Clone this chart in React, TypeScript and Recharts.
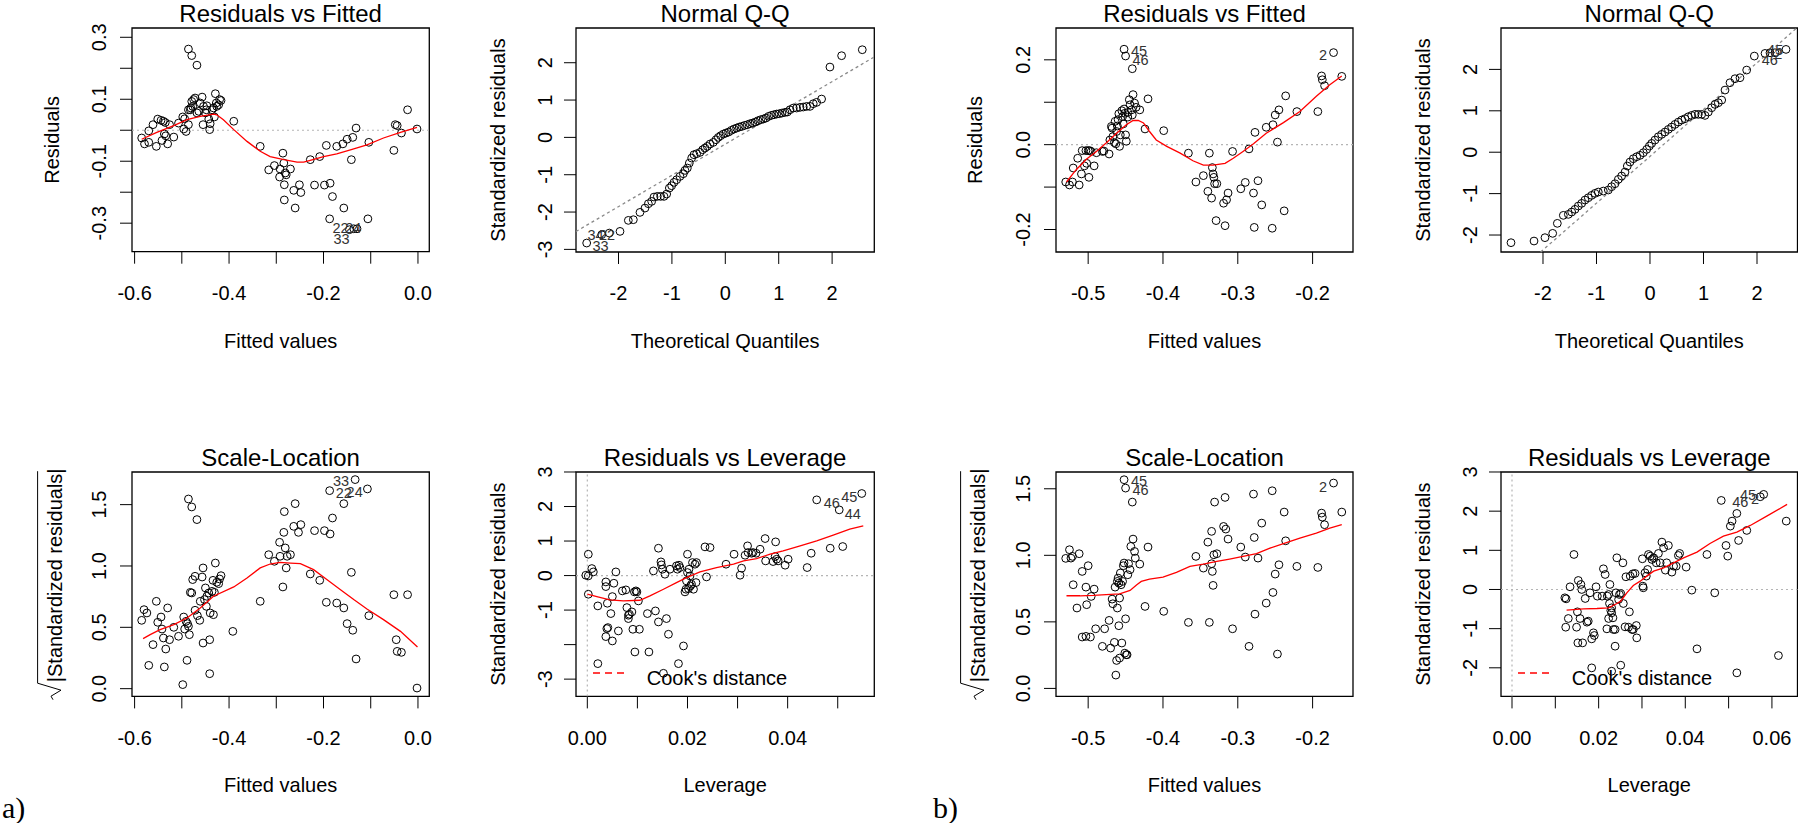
import React from "react";
import { ScatterChart, Scatter, XAxis, YAxis, ReferenceLine, ReferenceArea, Legend } from "recharts";

type XY = [number, number];
type Tag = [number, number, string];
type TickLab = [number, string | null];

const FONT = '"Liberation Sans", Arial, Helvetica, sans-serif';

// ---------- a) Residuals vs Fitted ----------
const rvfA: XY[] = [
  [-0.585, -0.025], [-0.579, -0.044], [-0.570, -0.039], [-0.570, -0.002], [-0.561, 0.018], [-0.554, -0.052],
  [-0.551, 0.036], [-0.544, 0.032], [-0.542, -0.033], [-0.539, 0.029], [-0.537, -0.012], [-0.535, 0.025],
  [-0.534, -0.018], [-0.530, -0.044], [-0.526, 0.018], [-0.517, -0.022], [-0.507, 0.023], [-0.498, 0.043],
  [-0.496, 0.004], [-0.494, 0.037], [-0.491, -0.004], [-0.486, 0.018], [-0.486, 0.066], [-0.482, 0.066],
  [-0.481, 0.072], [-0.479, 0.093], [-0.477, 0.077], [-0.475, 0.099], [-0.472, 0.104], [-0.468, 0.056],
  [-0.464, 0.061], [-0.461, 0.088], [-0.457, 0.107], [-0.455, 0.018], [-0.454, 0.077], [-0.450, 0.056],
  [-0.448, 0.066], [-0.447, 0.079], [-0.443, 0.036], [-0.441, 0.002], [-0.440, 0.021], [-0.436, 0.066],
  [-0.433, 0.072], [-0.431, 0.043], [-0.429, 0.118], [-0.427, 0.088], [-0.426, 0.077], [-0.422, 0.082],
  [-0.420, 0.099], [-0.417, 0.096], [-0.486, 0.262], [-0.479, 0.241], [-0.468, 0.210], [-0.390, 0.029],
  [-0.334, -0.052], [-0.316, -0.128], [-0.304, -0.114], [-0.293, -0.151], [-0.292, -0.125], [-0.286, -0.074],
  [-0.284, -0.106], [-0.283, -0.176], [-0.283, -0.225], [-0.281, -0.138], [-0.279, -0.144], [-0.270, -0.125],
  [-0.263, -0.194], [-0.260, -0.251], [-0.251, -0.176], [-0.248, -0.201], [-0.228, -0.095], [-0.219, -0.177],
  [-0.208, -0.085], [-0.198, -0.177], [-0.194, -0.049], [-0.186, -0.171], [-0.187, -0.286], [-0.181, -0.214],
  [-0.172, -0.052], [-0.159, -0.044], [-0.157, -0.251], [-0.150, -0.029], [-0.141, -0.095], [-0.138, -0.023],
  [-0.131, 0.007], [-0.136, -0.318], [-0.129, -0.318], [-0.145, -0.321], [-0.104, -0.039], [-0.106, -0.286],
  [-0.051, -0.065], [-0.048, 0.018], [-0.044, 0.015], [-0.035, -0.009], [-0.022, 0.066], [-0.002, 0.004],
];
const rvfASmooth: XY[] = [
  [-0.585, -0.029], [-0.553, -0.007], [-0.517, 0.015], [-0.489, 0.034], [-0.461, 0.045], [-0.433, 0.052],
  [-0.426, 0.050], [-0.412, 0.034], [-0.390, 0.002], [-0.362, -0.036], [-0.334, -0.068], [-0.313, -0.085],
  [-0.284, -0.095], [-0.256, -0.103], [-0.242, -0.103], [-0.228, -0.097], [-0.200, -0.085], [-0.172, -0.076],
  [-0.143, -0.063], [-0.108, -0.047], [-0.073, -0.025], [-0.037, -0.007], [-0.002, 0.009],
];
const rvfATags: Tag[] = [[-0.164, -0.317, "22"], [-0.137, -0.317, "24"], [-0.162, -0.350, "33"]];

// ---------- a) Normal Q-Q ----------
const qqA: XY[] = [
  [-2.596, -2.830], [-2.315, -2.607], [-2.172, -2.563], [-1.972, -2.518], [-1.816, -2.223], [-1.722, -2.205],
  [-1.598, -2.009], [-1.504, -1.893], [-1.441, -1.777], [-1.379, -1.714], [-1.335, -1.598], [-1.273, -1.580],
  [-1.211, -1.580], [-1.148, -1.580], [-1.098, -1.518], [-1.048, -1.357], [-1.005, -1.295], [-0.961, -1.205],
  [-0.911, -1.134], [-0.849, -1.045], [-0.786, -0.973], [-0.755, -0.884], [-0.711, -0.821], [-0.674, -0.688],
  [-0.630, -0.554], [-0.587, -0.464], [-0.537, -0.438], [-0.474, -0.402], [-0.424, -0.330], [-0.381, -0.286],
  [-0.337, -0.241], [-0.287, -0.179], [-0.225, -0.134], [-0.175, -0.063], [-0.131, 0.000], [-0.087, 0.045],
  [-0.037, 0.089], [0.012, 0.116], [0.062, 0.143], [0.112, 0.188], [0.162, 0.223], [0.212, 0.250],
  [0.262, 0.277], [0.312, 0.295], [0.362, 0.321], [0.412, 0.339], [0.462, 0.366], [0.512, 0.384],
  [0.562, 0.411], [0.612, 0.446], [0.661, 0.473], [0.711, 0.491], [0.761, 0.518], [0.811, 0.563],
  [0.861, 0.589], [0.911, 0.607], [0.961, 0.625], [1.011, 0.634], [1.061, 0.652], [1.117, 0.670],
  [1.161, 0.679], [1.211, 0.741], [1.273, 0.786], [1.335, 0.786], [1.398, 0.804], [1.460, 0.813],
  [1.523, 0.830], [1.585, 0.830], [1.647, 0.902], [1.710, 0.938], [1.803, 1.027], [1.959, 1.884],
  [2.178, 2.188], [2.565, 2.348],
];
const qqALine: [XY, XY] = [[-2.796, -2.52], [2.79, 2.155]];
const qqATags: Tag[] = [[-2.43, -2.61, "34"], [-2.215, -2.61, "22"], [-2.337, -2.92, "33"]];

// ---------- b) Residuals vs Fitted ----------
const rvfB: XY[] = [
  [-0.530, -0.088], [-0.525, -0.095], [-0.521, -0.088], [-0.520, -0.055], [-0.514, -0.032], [-0.512, -0.095],
  [-0.509, -0.069], [-0.508, -0.014], [-0.505, -0.050], [-0.503, -0.014], [-0.502, -0.044], [-0.500, -0.014],
  [-0.499, -0.077], [-0.498, -0.014], [-0.496, -0.016], [-0.492, -0.050], [-0.489, -0.019], [-0.481, -0.016],
  [-0.479, -0.015], [-0.472, -0.022], [-0.471, 0.011], [-0.469, 0.043], [-0.468, 0.039], [-0.467, 0.019],
  [-0.465, 0.005], [-0.464, 0.055], [-0.463, 0.002], [-0.462, 0.031], [-0.461, 0.044], [-0.460, 0.059],
  [-0.459, 0.073], [-0.458, -0.004], [-0.457, 0.023], [-0.455, 0.080], [-0.454, 0.066], [-0.453, 0.049],
  [-0.452, 0.084], [-0.451, 0.074], [-0.450, 0.023], [-0.449, 0.008], [-0.447, 0.065], [-0.447, 0.076],
  [-0.445, 0.106], [-0.444, 0.094], [-0.442, 0.082], [-0.441, 0.070], [-0.440, 0.118], [-0.438, 0.098],
  [-0.436, 0.088], [-0.431, 0.082], [-0.452, 0.225], [-0.450, 0.209], [-0.441, 0.179], [-0.424, 0.037],
  [-0.420, 0.108], [-0.399, 0.033], [-0.366, -0.020], [-0.356, -0.088], [-0.346, -0.073], [-0.340, -0.110],
  [-0.338, -0.020], [-0.335, -0.126], [-0.334, -0.054], [-0.333, -0.069], [-0.332, -0.077], [-0.331, -0.092],
  [-0.329, -0.179], [-0.328, -0.092], [-0.319, -0.138], [-0.317, -0.191], [-0.315, -0.130], [-0.313, -0.114],
  [-0.307, -0.016], [-0.296, -0.104], [-0.290, -0.089], [-0.285, -0.010], [-0.279, -0.114], [-0.278, -0.195],
  [-0.277, 0.029], [-0.273, -0.085], [-0.268, -0.142], [-0.262, 0.041], [-0.253, 0.047], [-0.250, 0.070],
  [-0.247, 0.006], [-0.245, 0.082], [-0.238, -0.156], [-0.236, 0.115], [-0.221, 0.078], [-0.193, 0.078],
  [-0.188, 0.162], [-0.187, 0.153], [-0.184, 0.139], [-0.172, 0.217], [-0.161, 0.161], [-0.254, -0.197],
];
const rvfBSmooth: XY[] = [
  [-0.529, -0.088], [-0.516, -0.059], [-0.502, -0.034], [-0.489, -0.016], [-0.476, 0.004], [-0.462, 0.027],
  [-0.449, 0.047], [-0.440, 0.057], [-0.433, 0.057], [-0.426, 0.051], [-0.418, 0.031], [-0.409, 0.011],
  [-0.395, -0.004], [-0.377, -0.020], [-0.360, -0.038], [-0.346, -0.048], [-0.333, -0.048], [-0.317, -0.044],
  [-0.306, -0.032], [-0.293, -0.016], [-0.279, 0.002], [-0.262, 0.027], [-0.239, 0.052], [-0.217, 0.078],
  [-0.195, 0.114], [-0.177, 0.141], [-0.161, 0.162],
];
const rvfBTags: Tag[] = [[-0.432, 0.220, "45"], [-0.430, 0.200, "46"], [-0.186, 0.212, "2"]];

// ---------- b) Normal Q-Q ----------
const qqB: XY[] = [
  [-2.598, -2.185], [-2.168, -2.145], [-1.963, -2.064], [-1.819, -1.960], [-1.732, -1.718], [-1.620, -1.525],
  [-1.526, -1.501], [-1.464, -1.445], [-1.402, -1.380], [-1.340, -1.300], [-1.277, -1.235], [-1.215, -1.155],
  [-1.153, -1.099], [-1.090, -1.042], [-1.028, -0.994], [-0.966, -0.962], [-0.872, -0.938], [-0.779, -0.913],
  [-0.717, -0.833], [-0.654, -0.761], [-0.592, -0.656], [-0.530, -0.575], [-0.467, -0.479], [-0.424, -0.334],
  [-0.374, -0.237], [-0.312, -0.157], [-0.249, -0.109], [-0.187, -0.076], [-0.125, -0.012], [-0.062, 0.068],
  [-0.012, 0.149], [0.031, 0.213], [0.093, 0.294], [0.156, 0.374], [0.218, 0.431], [0.280, 0.487],
  [0.343, 0.551], [0.405, 0.608], [0.467, 0.672], [0.530, 0.728], [0.592, 0.777], [0.654, 0.809],
  [0.717, 0.857], [0.779, 0.889], [0.841, 0.914], [0.903, 0.914], [0.966, 0.914], [1.028, 0.889],
  [1.090, 0.970], [1.153, 1.074], [1.215, 1.155], [1.277, 1.195], [1.340, 1.260], [1.402, 1.501],
  [1.495, 1.678], [1.589, 1.775], [1.682, 1.799], [1.807, 1.984], [1.950, 2.322], [2.150, 2.386],
  [2.243, 2.402], [2.336, 2.402], [2.542, 2.483],
];
const qqBLine: [XY, XY] = [[-2.044, -2.41], [2.743, 3.0]];
const qqBTags: Tag[] = [[2.34, 2.48, "45"], [2.24, 2.22, "46"], [2.40, 2.36, "2"]];

// ---------- a) Scale-Location ----------
const slA: XY[] = [
  [-0.585, 0.557], [-0.580, 0.644], [-0.574, 0.617], [-0.570, 0.190], [-0.561, 0.359], [-0.554, 0.712],
  [-0.551, 0.541], [-0.544, 0.584], [-0.542, 0.486], [-0.539, 0.413], [-0.537, 0.177], [-0.534, 0.323],
  [-0.530, 0.658], [-0.526, 0.399], [-0.517, 0.500], [-0.507, 0.427], [-0.498, 0.033], [-0.496, 0.584],
  [-0.494, 0.486], [-0.491, 0.549], [-0.489, 0.231], [-0.488, 0.530], [-0.486, 0.508], [-0.486, 1.546],
  [-0.484, 0.440], [-0.482, 0.785], [-0.479, 1.481], [-0.479, 0.780], [-0.477, 0.889], [-0.472, 0.916],
  [-0.472, 0.639], [-0.468, 1.378], [-0.467, 0.595], [-0.462, 0.557], [-0.461, 0.712], [-0.457, 0.910],
  [-0.455, 0.372], [-0.455, 0.984], [-0.452, 0.726], [-0.450, 0.821], [-0.448, 0.671], [-0.447, 0.753],
  [-0.443, 0.780], [-0.441, 0.122], [-0.441, 0.399], [-0.440, 0.617], [-0.436, 0.793], [-0.434, 0.883],
  [-0.433, 0.603], [-0.431, 0.785], [-0.429, 1.024], [-0.426, 0.867], [-0.422, 0.856], [-0.420, 0.894],
  [-0.417, 0.921], [-0.392, 0.467], [-0.334, 0.712], [-0.316, 1.092], [-0.304, 1.038], [-0.293, 1.193],
  [-0.292, 1.079], [-0.286, 0.829], [-0.284, 1.274], [-0.283, 1.443], [-0.281, 1.147], [-0.279, 0.984],
  [-0.277, 1.079], [-0.270, 1.092], [-0.263, 1.323], [-0.260, 1.508], [-0.253, 1.274], [-0.248, 1.337],
  [-0.228, 0.935], [-0.219, 1.288], [-0.208, 0.883], [-0.198, 1.288], [-0.194, 0.704], [-0.186, 1.261],
  [-0.187, 1.614], [-0.181, 1.391], [-0.172, 0.698], [-0.157, 1.508], [-0.157, 0.658], [-0.150, 0.530],
  [-0.141, 0.948], [-0.138, 0.476], [-0.133, 1.704], [-0.131, 0.242], [-0.107, 1.628], [-0.104, 0.595],
  [-0.051, 0.766], [-0.046, 0.399], [-0.044, 0.304], [-0.035, 0.296], [-0.022, 0.766], [-0.002, 0.005],
];
const slASmooth: XY[] = [
  [-0.582, 0.408], [-0.567, 0.440], [-0.546, 0.481], [-0.517, 0.522], [-0.489, 0.576], [-0.461, 0.658],
  [-0.433, 0.753], [-0.390, 0.829], [-0.362, 0.902], [-0.334, 0.984], [-0.313, 1.016], [-0.292, 1.030],
  [-0.270, 1.024], [-0.249, 1.019], [-0.221, 0.970], [-0.193, 0.889], [-0.164, 0.807], [-0.136, 0.726],
  [-0.108, 0.649], [-0.073, 0.563], [-0.037, 0.467], [-0.001, 0.340],
];
const slATags: Tag[] = [[-0.163, 1.690, "33"], [-0.157, 1.595, "22"], [-0.134, 1.603, "24"]];

// ---------- a) Residuals vs Leverage ----------
const rvlA: XY[] = [
  [0.0002, 0.618], [-0.0003, 0.010], [0.0002, -0.010], [0.0002, -0.541], [0.0009, 0.203], [0.0012, 0.106],
  [0.0021, -0.879], [0.0021, -2.551], [0.0037, -0.184], [0.0037, -0.319], [0.0039, -1.536], [0.0040, -0.802],
  [0.0041, -1.507], [0.0037, -1.768], [0.0047, -1.101], [0.0050, -0.609], [0.0050, -1.894], [0.0053, -0.222],
  [0.0057, 0.106], [0.0062, -1.604], [0.0070, -0.444], [0.0077, -0.415], [0.0079, -0.928], [0.0082, -1.150],
  [0.0082, -1.246], [0.0084, -1.121], [0.0089, -1.053], [0.0091, -1.556], [0.0094, -0.473], [0.0095, -2.213],
  [0.0097, -0.444], [0.0099, -0.473], [0.0102, -0.734], [0.0104, -1.556], [0.0120, -1.101], [0.0123, -2.213],
  [0.0132, 0.135], [0.0136, -1.024], [0.0142, 0.792], [0.0142, -1.343], [0.0147, 0.396], [0.0148, 0.309],
  [0.0150, 0.184], [0.0155, 0.039], [0.0158, -1.246], [0.0162, -1.700], [0.0165, 0.184], [0.0182, -2.551],
  [0.0178, 0.280], [0.0180, 0.184], [0.0183, 0.300], [0.0185, 0.232], [0.0192, -2.039], [0.0195, -0.473],
  [0.0197, -0.396], [0.0198, -0.155], [0.0200, 0.618], [0.0200, 0.087], [0.0202, -0.377], [0.0203, 0.184],
  [0.0205, -0.010], [0.0206, -0.300], [0.0208, -0.251], [0.0210, 0.377], [0.0212, -0.396], [0.0215, 0.329],
  [0.0217, -0.203], [0.0218, 0.377], [0.0235, 0.831], [0.0238, -0.039], [0.0245, 0.812], [0.0277, 0.329],
  [0.0293, 0.618], [0.0305, 0.010], [0.0308, 0.213], [0.0315, 0.589], [0.0320, 0.860], [0.0321, 0.667],
  [0.0328, 0.647], [0.0331, 0.667], [0.0337, 0.647], [0.0345, 0.763], [0.0355, 1.072], [0.0356, 0.425],
  [0.0371, 0.406], [0.0375, 0.551], [0.0376, 0.976], [0.0378, 0.473], [0.0381, 0.425], [0.0395, 0.300],
  [0.0401, 0.473], [0.0439, 0.232], [0.0447, 0.647], [0.0458, 2.193], [0.0485, 0.792], [0.0503, 1.903],
  [0.0510, 0.841], [0.0548, 2.377], [0.0152, -2.831],
];
const rvlASmooth: XY[] = [
  [0.0000, -0.541], [0.0019, -0.609], [0.0045, -0.705], [0.0072, -0.734], [0.0105, -0.715], [0.0125, -0.589],
  [0.0152, -0.396], [0.0178, -0.203], [0.0198, -0.058], [0.0225, 0.106], [0.0258, 0.232], [0.0292, 0.329],
  [0.0312, 0.425], [0.0338, 0.493], [0.0365, 0.618], [0.0391, 0.715], [0.0425, 0.860], [0.0458, 1.005],
  [0.0491, 1.169], [0.0524, 1.343], [0.0551, 1.440],
];
const rvlATags: Tag[] = [[0.0488, 2.116, "46"], [0.0523, 2.290, "45"], [0.0530, 1.778, "44"]];

// ---------- b) Scale-Location ----------
const slB: XY[] = [
  [-0.530, 0.977], [-0.525, 1.042], [-0.523, 0.979], [-0.521, 0.992], [-0.520, 0.779], [-0.515, 0.604],
  [-0.512, 1.012], [-0.508, 0.386], [-0.508, 0.879], [-0.503, 0.391], [-0.503, 0.761], [-0.502, 0.629],
  [-0.500, 0.922], [-0.497, 0.386], [-0.496, 0.691], [-0.492, 0.746], [-0.490, 0.448], [-0.481, 0.316],
  [-0.478, 0.448], [-0.472, 0.511], [-0.470, 0.303], [-0.468, 0.671], [-0.467, 0.636], [-0.465, 0.346],
  [-0.464, 0.761], [-0.463, 0.100], [-0.462, 0.210], [-0.461, 0.604], [-0.461, 0.804], [-0.460, 0.829],
  [-0.459, 0.471], [-0.459, 0.791], [-0.458, 0.228], [-0.458, 0.679], [-0.457, 0.867], [-0.456, 0.779],
  [-0.455, 0.341], [-0.454, 0.804], [-0.453, 0.922], [-0.452, 0.942], [-0.451, 0.265], [-0.450, 0.523],
  [-0.449, 0.253], [-0.448, 0.253], [-0.447, 0.854], [-0.446, 0.937], [-0.444, 0.892], [-0.443, 1.067],
  [-0.440, 1.122], [-0.438, 1.029], [-0.437, 0.979], [-0.431, 0.934], [-0.452, 1.568], [-0.450, 1.505],
  [-0.441, 1.400], [-0.424, 0.616], [-0.420, 1.062], [-0.399, 0.579], [-0.366, 0.496], [-0.356, 0.992],
  [-0.346, 0.904], [-0.340, 1.099], [-0.338, 0.496], [-0.335, 0.937], [-0.335, 1.180], [-0.334, 0.879],
  [-0.333, 0.774], [-0.332, 1.004], [-0.331, 1.400], [-0.328, 1.012], [-0.319, 1.217], [-0.317, 1.435],
  [-0.316, 1.197], [-0.313, 1.122], [-0.307, 0.448], [-0.296, 1.062], [-0.290, 0.987], [-0.285, 0.316],
  [-0.279, 1.460], [-0.278, 1.134], [-0.277, 0.558], [-0.273, 0.979], [-0.268, 1.242], [-0.262, 0.641],
  [-0.253, 0.721], [-0.250, 0.859], [-0.247, 0.258], [-0.245, 0.929], [-0.254, 1.485], [-0.238, 1.325],
  [-0.236, 1.109], [-0.221, 0.917], [-0.193, 0.909], [-0.188, 1.317], [-0.187, 1.287], [-0.184, 1.230],
  [-0.172, 1.543], [-0.161, 1.325],
];
const slBSmooth: XY[] = [
  [-0.529, 0.696], [-0.511, 0.696], [-0.493, 0.699], [-0.476, 0.704], [-0.458, 0.711], [-0.444, 0.736],
  [-0.435, 0.779], [-0.429, 0.804], [-0.418, 0.821], [-0.400, 0.836], [-0.382, 0.872], [-0.364, 0.917],
  [-0.346, 0.934], [-0.328, 0.954], [-0.311, 0.972], [-0.293, 0.992], [-0.275, 1.012], [-0.257, 1.054],
  [-0.239, 1.087], [-0.217, 1.129], [-0.195, 1.167], [-0.177, 1.205], [-0.161, 1.230],
];
const slBTags: Tag[] = [[-0.432, 1.555, "45"], [-0.430, 1.488, "46"], [-0.186, 1.513, "2"]];

// ---------- b) Residuals vs Leverage ----------
const rvlB: XY[] = [
  [0.0122, -0.213], [0.0125, -0.239], [0.0130, -0.741], [0.0124, -0.963], [0.0134, 0.068], [0.0143, 0.894],
  [0.0149, -0.963], [0.0151, -0.571], [0.0152, -1.363], [0.0153, 0.230], [0.0157, -0.741], [0.0159, 0.128],
  [0.0161, 0.000], [0.0163, -1.363], [0.0169, -0.230], [0.0173, -0.835], [0.0176, -0.809], [0.0180, -0.085],
  [0.0184, -1.261], [0.0188, -1.107], [0.0190, -1.175], [0.0194, 0.068], [0.0197, -0.170], [0.0208, -0.170],
  [0.0211, 0.528], [0.0215, 0.383], [0.0219, -1.005], [0.0220, -0.170], [0.0223, -0.128], [0.0223, -0.741],
  [0.0225, -0.358], [0.0226, 0.128], [0.0228, -0.537], [0.0230, -0.468], [0.0230, -0.596], [0.0233, -0.724],
  [0.0234, -1.022], [0.0238, -1.022], [0.0238, -1.448], [0.0240, -0.085], [0.0242, 0.809], [0.0246, -0.256],
  [0.0248, -0.128], [0.0251, -0.102], [0.0251, -1.934], [0.0256, 0.681], [0.0257, -0.358], [0.0261, -0.954],
  [0.0263, 0.324], [0.0269, -0.963], [0.0271, -0.571], [0.0273, 0.341], [0.0277, -1.022], [0.0279, 0.400],
  [0.0280, -1.022], [0.0284, 0.409], [0.0287, -0.920], [0.0288, -1.235], [0.0301, 0.784], [0.0302, 0.085],
  [0.0303, 0.043], [0.0307, 0.426], [0.0310, 0.341], [0.0313, 0.511], [0.0315, 0.894], [0.0319, 0.852],
  [0.0323, 0.767], [0.0327, 0.809], [0.0333, 0.681], [0.0338, 0.920], [0.0342, 0.681], [0.0346, 1.210],
  [0.0350, 1.065], [0.0354, 0.494], [0.0357, 0.681], [0.0361, 1.124], [0.0369, 0.443], [0.0373, 0.596],
  [0.0379, 0.596], [0.0384, 0.869], [0.0387, 0.920], [0.0402, 0.571], [0.0415, -0.017], [0.0427, -1.516],
  [0.0450, 0.894], [0.0468, -0.085], [0.0483, 2.274], [0.0494, 1.124], [0.0498, 0.852], [0.0504, 1.618],
  [0.0508, 1.746], [0.0519, 1.942], [0.0523, 1.252], [0.0519, -2.129], [0.0542, 1.508], [0.0573, 2.368],
  [0.0581, 2.428], [0.0615, -1.687], [0.0633, 1.746], [0.0184, -2.002], [0.0230, -2.087],
];
const rvlBSmooth: XY[] = [
  [0.0126, -0.528], [0.0165, -0.494], [0.0196, -0.486], [0.0223, -0.468], [0.0242, -0.358], [0.0251, -0.298],
  [0.0265, -0.085], [0.0280, 0.102], [0.0296, 0.213], [0.0311, 0.341], [0.0327, 0.468], [0.0350, 0.554],
  [0.0373, 0.681], [0.0396, 0.809], [0.0427, 0.954], [0.0457, 1.175], [0.0488, 1.363], [0.0519, 1.465],
  [0.0550, 1.635], [0.0588, 1.874], [0.0635, 2.172],
];
const rvlBTags: Tag[] = [[0.0527, 2.233, "46"], [0.0545, 2.404, "45"], [0.0561, 2.319, "2"]];

// ---------- tick labels ----------
const tFitA: TickLab[] = [[-0.6, "-0.6"], [-0.5, null], [-0.4, "-0.4"], [-0.3, null], [-0.2, "-0.2"], [-0.1, null], [0, "0.0"]];
const tResA: TickLab[] = [[-0.3, "-0.3"], [-0.2, null], [-0.1, "-0.1"], [0, null], [0.1, "0.1"], [0.2, null], [0.3, "0.3"]];
const tQ: TickLab[] = [[-2, "-2"], [-1, "-1"], [0, "0"], [1, "1"], [2, "2"]];
const tStdA: TickLab[] = [[-3, "-3"], [-2, "-2"], [-1, "-1"], [0, "0"], [1, "1"], [2, "2"]];
const tFitB: TickLab[] = [[-0.5, "-0.5"], [-0.4, "-0.4"], [-0.3, "-0.3"], [-0.2, "-0.2"]];
const tResB: TickLab[] = [[-0.2, "-0.2"], [-0.1, null], [0, "0.0"], [0.1, null], [0.2, "0.2"]];
const tStdB: TickLab[] = [[-2, "-2"], [-1, "-1"], [0, "0"], [1, "1"], [2, "2"]];
const tSqrt: TickLab[] = [[0, "0.0"], [0.5, "0.5"], [1, "1.0"], [1.5, "1.5"]];
const tLevA: TickLab[] = [[0, "0.00"], [0.01, null], [0.02, "0.02"], [0.03, null], [0.04, "0.04"], [0.05, null]];
const tStdLevA: TickLab[] = [[-3, "-3"], [-2, null], [-1, "-1"], [0, "0"], [1, "1"], [2, "2"], [3, "3"]];
const tLevB: TickLab[] = [[0, "0.00"], [0.01, null], [0.02, "0.02"], [0.03, null], [0.04, "0.04"], [0.05, null], [0.06, "0.06"]];
const tStdLevB: TickLab[] = [[-2, "-2"], [-1, "-1"], [0, "0"], [1, "1"], [2, "2"], [3, "3"]];

interface PanelCfg {
  title: string;
  xTitle: string;
  yTitle: string;
  sqrt?: boolean;
  box: [number, number, number, number];
  xDomain: [number, number];
  yDomain: [number, number];
  xTicks: TickLab[];
  yTicks: TickLab[];
  points: XY[];
  smooth?: XY[];
  tags: Tag[];
  zeroH?: boolean;
  zeroV?: boolean;
  qq?: [XY, XY];
  cook?: boolean;
  yLabOff: number;
  yTitleOff: number;
}

const panels: PanelCfg[] = [
  {
    title: "Residuals vs Fitted", xTitle: "Fitted values", yTitle: "Residuals",
    box: [131.7, 28.3, 429, 252], xDomain: [-0.6055, 0.024], yDomain: [-0.392, 0.33],
    xTicks: tFitA, yTicks: tResA, points: rvfA, smooth: rvfASmooth, tags: rvfATags, zeroH: true,
    yLabOff: 25.5, yTitleOff: 73.5,
  },
  {
    title: "Normal Q-Q", xTitle: "Theoretical Quantiles", yTitle: "Standardized residuals",
    box: [576, 28.3, 874.3, 252.3], xDomain: [-2.796, 2.79], yDomain: [-3.07, 2.93],
    xTicks: tQ, yTicks: tStdA, points: qqA, tags: qqATags, qq: qqALine,
    yLabOff: 23.5, yTitleOff: 71,
  },
  {
    title: "Residuals vs Fitted", xTitle: "Fitted values", yTitle: "Residuals",
    box: [1056, 28.3, 1353, 252.3], xDomain: [-0.543, -0.146], yDomain: [-0.253, 0.275],
    xTicks: tFitB, yTicks: tResB, points: rvfB, smooth: rvfBSmooth, tags: rvfBTags, zeroH: true,
    yLabOff: 25.5, yTitleOff: 74,
  },
  {
    title: "Normal Q-Q", xTitle: "Theoretical Quantiles", yTitle: "Standardized residuals",
    box: [1501, 28.3, 1797.5, 252.3], xDomain: [-2.785, 2.757], yDomain: [-2.41, 3.0],
    xTicks: tQ, yTicks: tStdB, points: qqB, tags: qqBTags, qq: qqBLine,
    yLabOff: 24, yTitleOff: 71,
  },
  {
    title: "Scale-Location", xTitle: "Fitted values", yTitle: "|Standardized residuals|", sqrt: true,
    box: [131.7, 472.3, 429, 696.7], xDomain: [-0.6055, 0.024], yDomain: [-0.063, 1.766],
    xTicks: tFitA, yTicks: tSqrt, points: slA, smooth: slASmooth, tags: slATags,
    yLabOff: 25.5, yTitleOff: 70,
  },
  {
    title: "Residuals vs Leverage", xTitle: "Leverage", yTitle: "Standardized residuals",
    box: [576, 472.3, 874.3, 696.7], xDomain: [-0.00226, 0.0573], yDomain: [-3.5, 3.0],
    xTicks: tLevA, yTicks: tStdLevA, points: rvlA, smooth: rvlASmooth, tags: rvlATags,
    zeroH: true, zeroV: true, cook: true, yLabOff: 23.5, yTitleOff: 71,
  },
  {
    title: "Scale-Location", xTitle: "Fitted values", yTitle: "|Standardized residuals|", sqrt: true,
    box: [1056, 472.3, 1353, 696.7], xDomain: [-0.543, -0.146], yDomain: [-0.06, 1.626],
    xTicks: tFitB, yTicks: tSqrt, points: slB, smooth: slBSmooth, tags: slBTags,
    yLabOff: 26, yTitleOff: 71,
  },
  {
    title: "Residuals vs Leverage", xTitle: "Leverage", yTitle: "Standardized residuals",
    box: [1501, 472.3, 1797.5, 696.7], xDomain: [-0.00254, 0.0659], yDomain: [-2.73, 3.0],
    xTicks: tLevB, yTicks: tStdLevB, points: rvlB, smooth: rvlBSmooth, tags: rvlBTags,
    zeroH: true, zeroV: true, cook: true, yLabOff: 24, yTitleOff: 71,
  },
];

const L = 100, T = 40, R = 6, B = 110;

const findLab = (labs: TickLab[], v: number) => {
  const e = labs.find(([k]) => Math.abs(k - v) < 1e-9);
  return e ? e[1] : null;
};

const Circle = (p: any) => <circle cx={p.cx} cy={p.cy} r={3.9} fill="none" stroke="#000" strokeWidth={1} />;
const Nothing = () => <g />;
const TagText = (p: any) => (
  <text x={p.cx} y={p.cy} textAnchor="middle" dominantBaseline="central" fontSize={14.5} fill="#333" fontFamily={FONT}>
    {p.payload.t}
  </text>
);

function Panel({ c }: { c: PanelCfg }) {
  const [bl, bt, br, bb] = c.box;
  const bw = br - bl;
  const bh = bb - bt;
  const w = bw + L + R;
  const h = bh + T + B;
  const pts = c.points.map(([x, y]) => ({ x, y }));
  const smooth = (c.smooth || []).map(([x, y]) => ({ x, y }));
  const tags = c.tags.map(([x, y, t]) => ({ x, y, t }));
  const yc = T + bh / 2;
  const yx = L - c.yTitleOff;

  return (
    <div style={{ position: "absolute", left: bl - L, top: bt - T, width: w, height: h }}>
      <ScatterChart width={w} height={h} margin={{ top: T, right: R, bottom: 0, left: 0 }}>
        <XAxis
          type="number" dataKey="x" domain={c.xDomain} allowDataOverflow
          ticks={c.xTicks.map((t) => t[0])} interval={0} height={B}
          axisLine={false} tickLine={{ stroke: "#000", strokeWidth: 1 }} tickSize={12} tickMargin={36.3}
          tick={(p: any) => {
            const t = findLab(c.xTicks, p.payload.value);
            return t ? (
              <text x={p.x} y={p.y} textAnchor="middle" fontSize={20} fill="#000" fontFamily={FONT}>{t}</text>
            ) : <g />;
          }}
          label={{
            content: () => (
              <text x={L + bw / 2} y={T + bh + 96} textAnchor="middle" fontSize={20} fill="#000" fontFamily={FONT}>
                {c.xTitle}
              </text>
            ),
          }}
        />
        <YAxis
          type="number" dataKey="y" domain={c.yDomain} allowDataOverflow
          ticks={c.yTicks.map((t) => t[0])} interval={0} width={L}
          axisLine={false} tickLine={{ stroke: "#000", strokeWidth: 1 }} tickSize={12} tickMargin={c.yLabOff - 12}
          tick={(p: any) => {
            const t = findLab(c.yTicks, p.payload.value);
            return t ? (
              <text x={p.x} y={p.y} transform={`rotate(-90 ${p.x} ${p.y})`} textAnchor="middle" fontSize={20} fill="#000" fontFamily={FONT}>
                {t}
              </text>
            ) : <g />;
          }}
          label={{
            content: () =>
              c.sqrt ? (
                <g transform={`translate(${yx} ${yc}) rotate(-90)`}>
                  <path d="M -115.5 -9 L -112 -11 L -106 -1 L -99 -24.4 L 113 -24.4" fill="none" stroke="#000" strokeWidth={1} />
                  <text x={-98} y={0} fontSize={20} fill="#000" fontFamily={FONT}>{c.yTitle}</text>
                </g>
              ) : (
                <text x={yx} y={yc} transform={`rotate(-90 ${yx} ${yc})`} textAnchor="middle" fontSize={20} fill="#000" fontFamily={FONT}>
                  {c.yTitle}
                </text>
              ),
          }}
        />
        <ReferenceArea
          x1={c.xDomain[0]} x2={c.xDomain[1]} y1={c.yDomain[0]} y2={c.yDomain[1]}
          fill="none" fillOpacity={0} stroke="#000" strokeWidth={1.3} ifOverflow="visible"
          label={{
            content: () => (
              <text x={L + bw / 2} y={T - 6} textAnchor="middle" fontSize={24} fill="#000" fontFamily={FONT}>
                {c.title}
              </text>
            ),
          }}
        />
        {c.zeroH && <ReferenceLine y={0} stroke="#b5b5b5" strokeWidth={1.2} strokeDasharray="2 3" />}
        {c.zeroV && <ReferenceLine x={0} stroke="#b5b5b5" strokeWidth={1.2} strokeDasharray="2 3" />}
        {c.qq && (
          <ReferenceLine
            segment={[{ x: c.qq[0][0], y: c.qq[0][1] }, { x: c.qq[1][0], y: c.qq[1][1] }]}
            stroke="#8a8a8a" strokeWidth={1.3} strokeDasharray="3 3" ifOverflow="visible"
          />
        )}
        <Scatter data={pts} shape={Circle} isAnimationActive={false} />
        {c.smooth && (
          <Scatter data={smooth} shape={Nothing} line={{ stroke: "#ff0000", strokeWidth: 1.3 }} isAnimationActive={false} />
        )}
        <Scatter data={tags} shape={TagText} isAnimationActive={false} />
        {c.cook && (
          <Legend
            layout="horizontal" verticalAlign="middle" align="center"
            wrapperStyle={{ left: L + 17, top: T + 192.4, width: 240, height: 28 }}
            content={() => (
              <svg width={240} height={28} style={{ display: "block", overflow: "visible" }}>
                <line x1={0} y1={8} x2={34} y2={8} stroke="#ff0000" strokeWidth={1.3} strokeDasharray="7 5" />
                <text x={53.7} y={20.3} fontSize={20} fill="#000" fontFamily={FONT}>Cook's distance</text>
              </svg>
            )}
          />
        )}
      </ScatterChart>
    </div>
  );
}

export default function App() {
  return (
    <div
      style={{
        position: "absolute", left: 0, top: 0, width: 1798, height: 823,
        overflow: "hidden", background: "#fff", fontFamily: FONT,
      }}
    >
      {panels.map((c, i) => (
        <Panel key={i} c={c} />
      ))}
      <svg width={1798} height={823} style={{ position: "absolute", left: 0, top: 0, pointerEvents: "none" }}>
        <text x={2} y={818} fontSize={30} fontFamily='"Liberation Serif", "Times New Roman", serif' fill="#000">a)</text>
        <text x={933} y={818} fontSize={30} fontFamily='"Liberation Serif", "Times New Roman", serif' fill="#000">b)</text>
      </svg>
    </div>
  );
}
